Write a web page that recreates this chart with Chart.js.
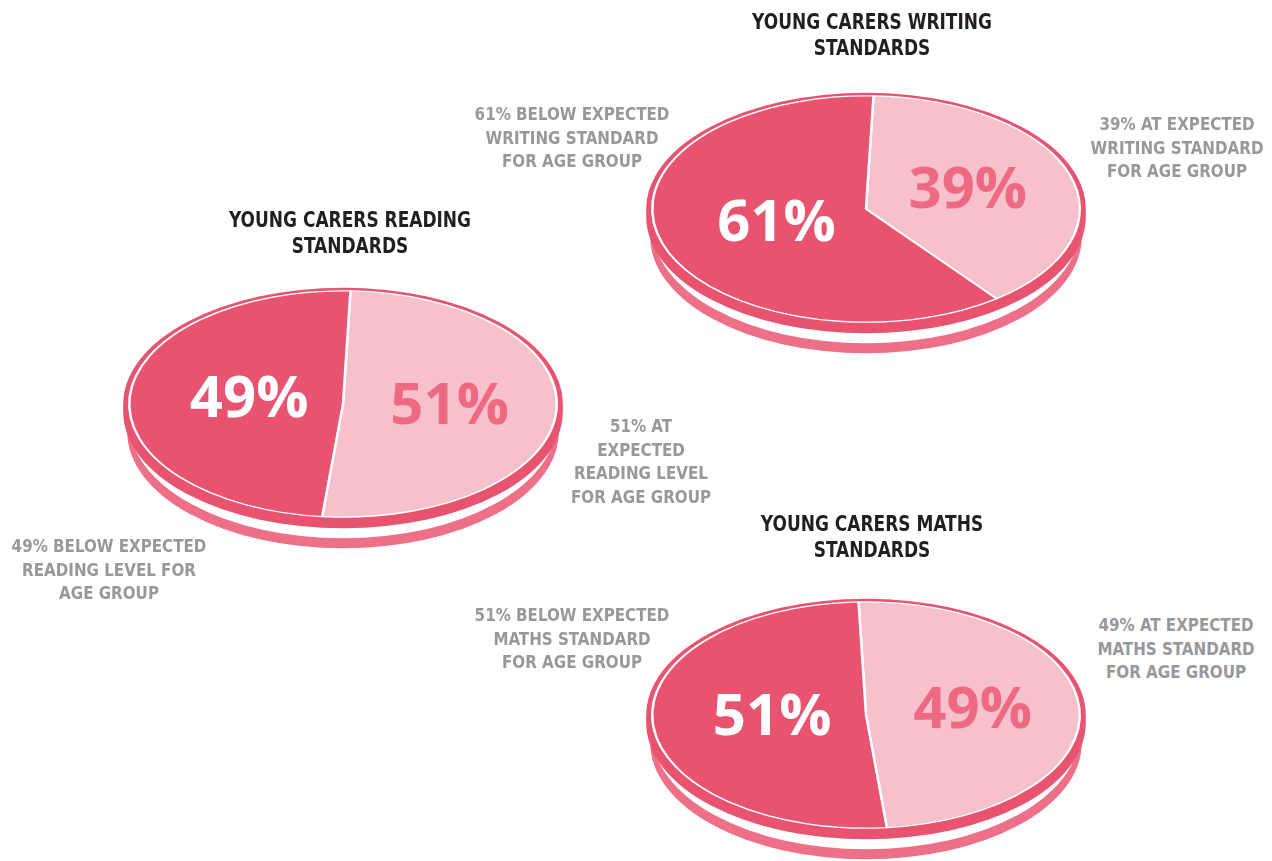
<!DOCTYPE html>
<html><head><meta charset="utf-8">
<script src="https://cdn.jsdelivr.net/npm/chart.js@4"></script>
<style>
html,body{margin:0;padding:0;background:#fff;overflow:hidden;width:1272px;height:861px;}
#stage{position:relative;width:1272px;height:861px;overflow:hidden;background:#fff;}
canvas{position:absolute;}
.t{position:absolute;text-align:center;font-family:"Liberation Sans Narrow","DejaVu Sans Condensed","Liberation Sans",sans-serif;font-weight:bold;white-space:nowrap;}
.title{color:#231f20;font-size:21px;line-height:26px;transform:translateX(-50%) scaleX(0.9);}
.note{color:#98989b;font-size:17.5px;line-height:23.5px;transform:translateX(-50%) scaleX(0.96);}
</style></head><body><div id="stage"></div>
<script>
// ---- data ----
const sliceLabels = ['At expected standard', 'Below expected standard'];
const writingValues = [39, 61];
const readingValues = [51, 49];
const mathsValues = [49, 51];
const chartTitles = [
  ['YOUNG CARERS WRITING', 'STANDARDS'],
  ['YOUNG CARERS READING', 'STANDARDS'],
  ['YOUNG CARERS MATHS', 'STANDARDS']
];
const writingNotes = [
  ['39% AT EXPECTED', 'WRITING STANDARD', 'FOR AGE GROUP'],
  ['61% BELOW EXPECTED', 'WRITING STANDARD', 'FOR AGE GROUP']
];
const readingNotes = [
  ['51% AT', 'EXPECTED', 'READING LEVEL', 'FOR AGE GROUP'],
  ['49% BELOW EXPECTED', 'READING LEVEL FOR', 'AGE GROUP']
];
const mathsNotes = [
  ['49% AT EXPECTED', 'MATHS STANDARD', 'FOR AGE GROUP'],
  ['51% BELOW EXPECTED', 'MATHS STANDARD', 'FOR AGE GROUP']
];

// ---- style / layout ----
const DARK = '#E8536F', LIGHT = '#F6C1CB', RIMPINK = '#EE6F88', LIGHTTXT = '#EE6A84';
const RX = 221, RY = 117, RIM = 6, SIZE = 450;
const LABEL_FRAC = [0.5, 0.44];
const layouts = [
  {values: writingValues, notes: writingNotes, cx: 866, cy: 209, rot: 2,
   title: {x: 872, y: 9}, noteXY: [{x: 1177, y: 113}, {x: 572, y: 103}]},
  {values: readingValues, notes: readingNotes, cx: 343, cy: 404, rot: 2,
   title: {x: 350, y: 207}, noteXY: [{x: 641, y: 415}, {x: 109, y: 535}]},
  {values: mathsValues, notes: mathsNotes, cx: 866, cy: 715, rot: -2,
   title: {x: 872, y: 511}, noteXY: [{x: 1176, y: 614}, {x: 572, y: 604}]}
];

const stage = document.getElementById('stage');
function addText(lines, x, y, cls) {
  const d = document.createElement('div');
  d.className = 't ' + cls;
  d.style.left = x + 'px'; d.style.top = y + 'px';
  d.innerHTML = lines.join('<br>');
  stage.appendChild(d);
}

function ellipse(ctx, x, y, rx, ry, fill) {
  ctx.beginPath(); ctx.ellipse(x, y, rx, ry, 0, 0, Math.PI * 2);
  ctx.fillStyle = fill; ctx.fill();
}

const tiltPlugin = {
  id: 'tilt',
  beforeDatasetsDraw(chart) {
    const ctx = chart.ctx;
    const a = chart.getDatasetMeta(0).data[0];
    const k = RY / RX;
    const rx = a.outerRadius + RIM, ry = rx * k;
    ctx.save();
    ellipse(ctx, a.x, a.y + 28, rx - 4, ry, RIMPINK);
    ellipse(ctx, a.x, a.y + 18, rx - 6, ry, '#ffffff');
    ellipse(ctx, a.x, a.y + 8, rx, ry, DARK);
    ellipse(ctx, a.x, a.y, rx, ry, DARK);
    ctx.translate(a.x, a.y); ctx.scale(1, k); ctx.translate(-a.x, -a.y);
  },
  afterDatasetsDraw(chart) {
    const ctx = chart.ctx;
    ctx.restore();
    const meta = chart.getDatasetMeta(0);
    const k = RY / RX;
    const vals = chart.data.datasets[0].data;
    meta.data.forEach((arc, i) => {
      const mid = (arc.startAngle + arc.endAngle) / 2;
      const r = arc.outerRadius * LABEL_FRAC[i];
      const x = arc.x + Math.cos(mid) * r;
      const y = arc.y + Math.sin(mid) * r * k;
      ctx.save();
      ctx.font = 'bold 58px "Open Sans", sans-serif';
      ctx.textAlign = 'center'; ctx.textBaseline = 'middle';
      ctx.fillStyle = i === 0 ? LIGHTTXT : '#ffffff';
      ctx.fillText(vals[i] + '%', x, y);
      ctx.restore();
    });
  }
};

layouts.forEach((L, idx) => {
  const c = document.createElement('canvas');
  c.width = SIZE; c.height = SIZE;
  c.style.left = (L.cx - SIZE / 2) + 'px';
  c.style.top = (L.cy - SIZE / 2) + 'px';
  stage.appendChild(c);
  const pad = SIZE / 2 - (RX - RIM);
  new Chart(c, {
    type: 'pie',
    data: {
      labels: sliceLabels,
      datasets: [{
        data: L.values,
        backgroundColor: [LIGHT, DARK],
        borderColor: '#ffffff',
        borderWidth: 2.5
      }]
    },
    options: {
      responsive: false,
      animation: false,
      rotation: L.rot,
      layout: {padding: pad},
      plugins: {legend: {display: false}, tooltip: {enabled: false}, title: {display: false}}
    },
    plugins: [tiltPlugin]
  });
  addText(chartTitles[idx], L.title.x, L.title.y, 'title');
  L.notes.forEach((n, j) => addText(n, L.noteXY[j].x, L.noteXY[j].y, 'note'));
});
</script></body></html>
